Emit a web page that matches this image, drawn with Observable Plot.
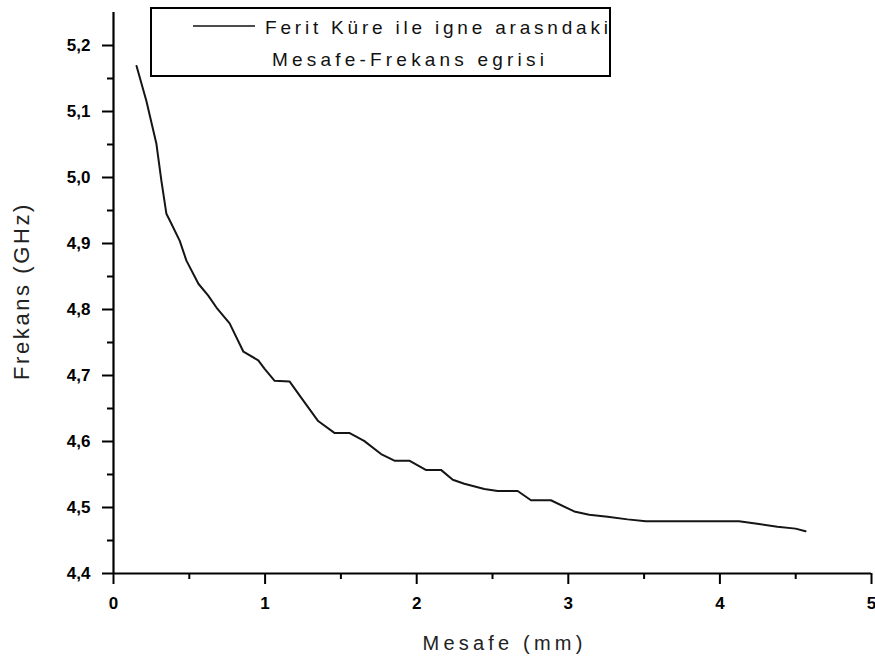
<!DOCTYPE html>
<html>
<head>
<meta charset="utf-8">
<script src="https://cdn.jsdelivr.net/npm/d3@7"></script>
<script src="https://cdn.jsdelivr.net/npm/@observablehq/plot@0.6"></script>
<style>
  html, body { margin: 0; padding: 0; background: #fff; }
</style>
</head>
<body>
<div id="wrap"></div>
<script>
// Data
const distance = [0.152, 0.217, 0.283, 0.316, 0.349, 0.382, 0.437, 0.481, 0.560, 0.625, 0.679, 0.766,
  0.857, 0.955, 0.997, 1.063, 1.161, 1.239, 1.350, 1.457, 1.555, 1.653, 1.765, 1.853, 1.951, 2.060,
  2.160, 2.238, 2.314, 2.446, 2.534, 2.666, 2.754, 2.885, 3.039, 3.138, 3.259, 3.391, 3.511, 4.126,
  4.258, 4.379, 4.499, 4.565];
const frequency = [5.169, 5.116, 5.051, 4.995, 4.945, 4.930, 4.904, 4.874, 4.839, 4.821, 4.803, 4.779,
  4.736, 4.723, 4.710, 4.692, 4.691, 4.666, 4.631, 4.613, 4.613, 4.601, 4.581, 4.571, 4.571, 4.557,
  4.557, 4.542, 4.536, 4.528, 4.525, 4.525, 4.511, 4.511, 4.494, 4.489, 4.486, 4.482, 4.479, 4.479,
  4.475, 4.471, 4.468, 4.464];
const xTicks = [0, 1, 2, 3, 4, 5];
const xMinorTicks = [0.5, 1.5, 2.5, 3.5, 4.5];
const yTicks = [4.4, 4.5, 4.6, 4.7, 4.8, 4.9, 5.0, 5.1, 5.2];
const yMinorTicks = [4.45, 4.55, 4.65, 4.75, 4.85, 4.95, 5.05, 5.15];
const xDomain = [0, 5];
const yDomain = [4.4, 5.25];
const xTitle = ["Mesafe (mm)"];
const yTitle = ["Frekans (GHz)"];
const legendLines = ["Ferit Küre ile igne arasndaki", "Mesafe-Frekans egrisi"];

const data = distance.map((d, i) => ({ d, f: frequency[i] }));
const fmt = v => v.toFixed(1).replace(".", ",");

const chart = Plot.plot({
  width: 875,
  height: 662,
  marginLeft: 113,
  marginRight: 4,
  marginTop: 12,
  marginBottom: 89,
  style: { fontFamily: "'Liberation Sans', Arial, sans-serif", background: "#fff", color: "#000" },
  x: { domain: xDomain, label: null },
  y: { domain: yDomain, label: null },
  marks: [
    Plot.axisY(yTicks, { tickSize: 11, tickPadding: 12, tickFormat: fmt, fontSize: 17, fontWeight: "bold", strokeWidth: 2, label: null }),
    Plot.axisY(yMinorTicks, { tickSize: 6, tickFormat: () => "", strokeWidth: 2, label: null }),
    Plot.axisX(xTicks, { tickSize: 11, tickPadding: 12, tickFormat: d => String(d), fontSize: 17, fontWeight: "bold", strokeWidth: 2, label: null }),
    Plot.axisX(xMinorTicks, { tickSize: 6, tickFormat: () => "", strokeWidth: 2, label: null }),
    Plot.line(data, { x: "d", y: "f", stroke: "#151515", strokeWidth: 2 }),
    Plot.text(yTitle, { text: d => d, frameAnchor: "left", textAnchor: "middle", lineAnchor: "middle", rotate: -90, dx: -92, dy: -2, fontSize: 22, fill: "#222" }),
    Plot.text(xTitle, { text: d => d, frameAnchor: "bottom", textAnchor: "middle", lineAnchor: "middle", dx: 12, dy: 70, fontSize: 20, fill: "#222" }),
    Plot.ruleX([xDomain[0]], { x: d => d, y1: yDomain[0], y2: yDomain[1], stroke: "#000", strokeWidth: 2.2 }),
    Plot.ruleY([yDomain[0]], { y: d => d, stroke: "#000", strokeWidth: 2.2 })
  ]
});

document.getElementById("wrap").appendChild(chart);

chart.querySelectorAll("text").forEach(t => {
  if (t.textContent === yTitle[0]) t.setAttribute("letter-spacing", "2.6");
  if (t.textContent === xTitle[0]) t.setAttribute("letter-spacing", "4.2");
});

// Legend box drawn inside the SVG
const lg = d3.select(chart).append("g").attr("aria-label", "legend").attr("text-anchor", "start");
lg.append("rect")
  .attr("x", 151).attr("y", 8).attr("width", 459).attr("height", 68)
  .attr("fill", "#fff").attr("stroke", "#000").attr("stroke-width", 2);
lg.append("line")
  .attr("x1", 193).attr("x2", 255).attr("y1", 26).attr("y2", 26)
  .attr("stroke", "#111").attr("stroke-width", 1.6);
lg.append("text")
  .attr("x", 265).attr("y", 34)
  .attr("text-anchor", "start")
  .attr("font-size", 19).attr("letter-spacing", 3.8).attr("fill", "#111")
  .attr("font-family", "'Liberation Sans', Arial, sans-serif")
  .text(legendLines[0]);
lg.append("text")
  .attr("x", 272).attr("y", 66)
  .attr("text-anchor", "start")
  .attr("font-size", 19).attr("letter-spacing", 4.2).attr("fill", "#111")
  .attr("font-family", "'Liberation Sans', Arial, sans-serif")
  .text(legendLines[1]);
</script>
</body>
</html>
